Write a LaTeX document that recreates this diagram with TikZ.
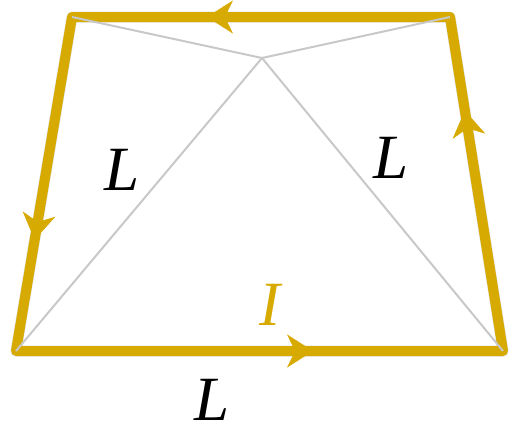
\documentclass[tikz,border=0pt]{standalone}
\usepackage{fontspec}
\setmainfont{Liberation Serif}
\usetikzlibrary{arrows.meta,decorations.markings}
\definecolor{gold}{RGB}{214,170,0}
\definecolor{lgrey}{RGB}{200,200,200}
\begin{document}
\begin{tikzpicture}[x=1pt,y=-1pt,
  loop/.style={draw=gold,line width=10pt,line join=round,line cap=round},
  shadowloop/.style={draw=black,opacity=0.12,line width=11pt,line join=round,line cap=round},
  thin/.style={draw=lgrey,line width=2pt},
  lbl/.style={inner sep=0pt,font=\fontsize{63}{63}\selectfont\itshape},
  mk/.style={draw=none,postaction=decorate,decoration={markings,mark=at position #1 with {\arrow[gold]{Stealth[length=26pt,width=33pt,inset=8pt]}}}}]
\useasboundingbox (0,0) rectangle (510,432);
\coordinate (A) at (72,17);
\coordinate (B) at (450,17);
\coordinate (C) at (503,351);
\coordinate (D) at (16,351);
\coordinate (O) at (262,58);
% shadow
\begin{scope}[shift={(2,3)}]
\draw[shadowloop] (B) -- (A) -- (D) -- (C) -- cycle;
\end{scope}
% loop
\draw[loop] (B) -- (A) -- (D) -- (C) -- cycle;
\path[mk=0.643] (B) -- (A);
\path[mk=0.667] (A) -- (D);
\path[mk=0.61] (D) -- (C);
\path[mk=0.72] (C) -- (B);
% grey lines
\draw[thin] (A) -- (O) -- (B);
\draw[thin] (D) -- (O) -- (C);
% labels
\node[lbl] (L1) at (122,170) {L};
\node[lbl] (L2) at (391,158) {L};
\node[lbl] (L3) at (212,400) {L};
\node[lbl,text=gold] (I) at (270,305) {I};
\end{tikzpicture}
\end{document}
